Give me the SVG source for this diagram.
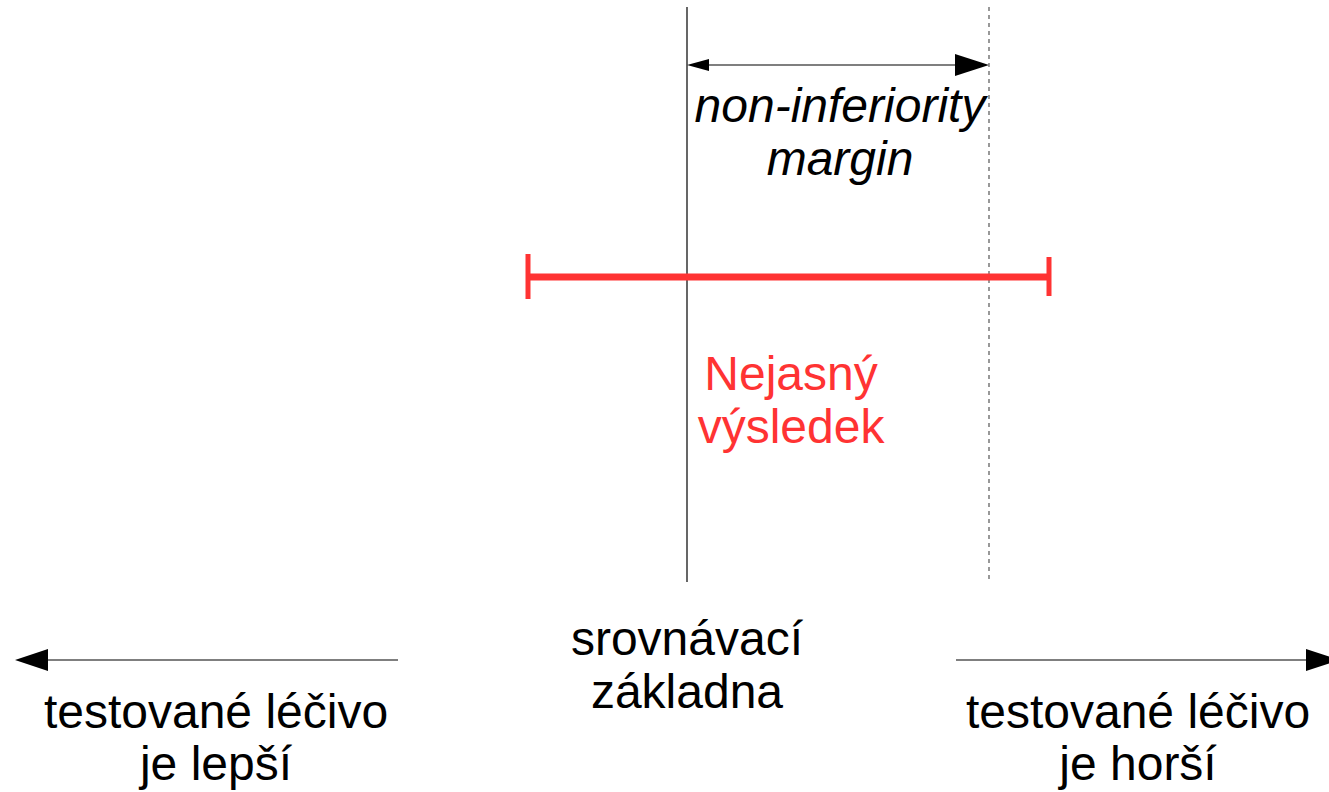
<svg xmlns="http://www.w3.org/2000/svg" width="1329" height="792" viewBox="0 0 1329 792">
  <style>
    .lbl { font-family: "Liberation Sans", Arial, sans-serif; font-size: 48px; text-anchor: middle; fill: #000; }
    .it { font-style: italic; }
    .red { fill: #ff3333; }
    .thin { stroke: #000; stroke-width: 1.2; fill: none; }
    .dash { stroke: #555; stroke-width: 1.2; stroke-dasharray: 4 4; fill: none; }
    .bar { stroke: #ff3333; fill: none; }
  </style>
  <rect width="1329" height="792" fill="#fff"/>

  <g id="connectors">
    <!-- reference axis and margin boundary -->
    <line class="thin" x1="687" y1="7" x2="687" y2="582"/>
    <line class="dash" x1="989" y1="7" x2="989" y2="582"/>
    <!-- margin width arrow -->
    <line class="thin" x1="700" y1="65" x2="960" y2="65"/>
    <polygon points="687,65 709,59 709,71" fill="#000"/>
    <polygon points="989,65 955,54 955,76" fill="#000"/>
    <!-- direction arrows -->
    <line class="thin" x1="40" y1="660" x2="398" y2="660"/>
    <polygon points="15,660 48,649 48,671" fill="#000"/>
    <line class="thin" x1="956" y1="660" x2="1310" y2="660"/>
    <polygon points="1340,660 1306,649 1306,671" fill="#000"/>
  </g>

  <g id="interval">
    <line class="bar" x1="528" y1="277" x2="1049" y2="277" stroke-width="7"/>
    <line class="bar" x1="528" y1="254" x2="528" y2="299" stroke-width="5"/>
    <line class="bar" x1="1049" y1="257" x2="1049" y2="296" stroke-width="5"/>
  </g>

  <g id="margin-label">
    <text class="lbl it" x="840" y="122">non-inferiority</text>
    <text class="lbl it" x="840" y="175">margin</text>
  </g>

  <g id="result-label">
    <text class="lbl red" x="791" y="390">Nejasný</text>
    <text class="lbl red" x="791" y="443">výsledek</text>
  </g>

  <g id="baseline-label">
    <text class="lbl" x="687" y="655">srovnávací</text>
    <text class="lbl" x="687" y="708">základna</text>
  </g>

  <g id="better-label">
    <text class="lbl" x="216" y="728">testované léčivo</text>
    <text class="lbl" x="216" y="780">je lepší</text>
  </g>

  <g id="worse-label">
    <text class="lbl" x="1138" y="728">testované léčivo</text>
    <text class="lbl" x="1138" y="780">je horší</text>
  </g>
</svg>
